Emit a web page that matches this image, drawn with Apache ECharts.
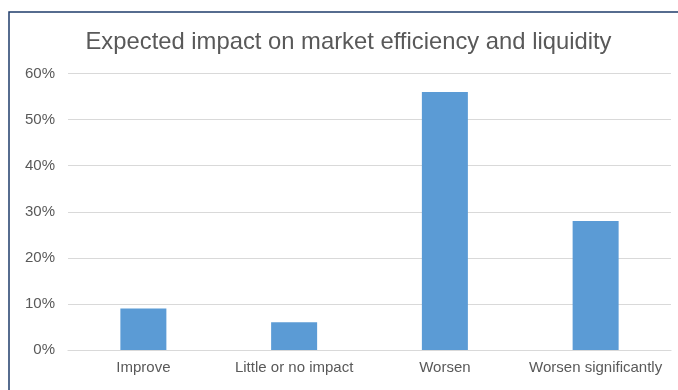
<!DOCTYPE html>
<html>
<head>
<meta charset="utf-8">
<script src="https://cdn.jsdelivr.net/npm/echarts@6/dist/echarts.min.js"></script>
<style>
  html, body { margin: 0; padding: 0; background: #fff; }
  #chart { width: 678px; height: 390px; }
</style>
</head>
<body>
<div id="chart"></div>
<script>
// Survey responses: share of respondents per expected impact
const categories = ['Improve', 'Little or no impact', 'Worsen', 'Worsen significantly'];
const shares = [9, 6, 56, 28];
const yTicks = [0, 10, 20, 30, 40, 50, 60];

const chart = echarts.init(document.getElementById('chart'), null, { renderer: 'canvas' });
const textColor = '#595959';
const fontFamily = '"Liberation Sans", Arial, Helvetica, sans-serif';

chart.setOption({
  animation: false,
  backgroundColor: '#ffffff',
  title: {
    text: 'Expected impact on market efficiency and liquidity',
    left: 343.5,
    textAlign: 'center',
    top: 25,
    textStyle: { fontFamily, fontSize: 23.8, fontWeight: 'normal', color: textColor }
  },
  graphic: [{
    // frame around the chart area
    type: 'rect',
    shape: { x: 9, y: 12, width: 720, height: 420 },
    style: { fill: null, stroke: '#1f3d6b', lineWidth: 1.5 },
    silent: true
  }],
  grid: { left: 68, right: 7, top: 73.5, bottom: 40, containLabel: false },
  xAxis: {
    type: 'category',
    data: categories,
    axisLine: { show: true, lineStyle: { color: '#d9d9d9', width: 1.2 } },
    axisTick: { show: false },
    axisLabel: { color: textColor, fontFamily, fontSize: 15, margin: 10, interval: 0 }
  },
  yAxis: {
    type: 'value',
    min: yTicks[0],
    max: yTicks[yTicks.length - 1],
    interval: yTicks[1] - yTicks[0],
    axisLine: { show: false },
    axisTick: { show: false },
    splitLine: { lineStyle: { color: '#d9d9d9', width: 1.2 } },
    axisLabel: { color: textColor, fontFamily, fontSize: 15, margin: 13, formatter: v => v + '%' }
  },
  series: [{
    type: 'bar',
    data: shares,
    barWidth: 46,
    itemStyle: { color: '#5b9bd5' }
  }]
});
</script>
</body>
</html>
